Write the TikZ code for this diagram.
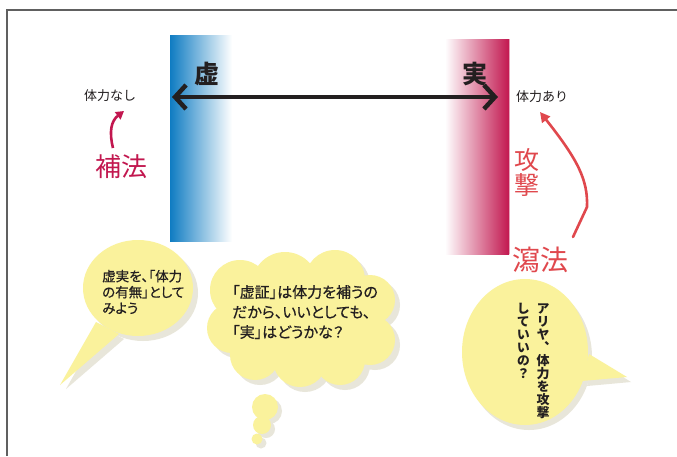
\documentclass[tikz,border=0pt]{standalone}
\usepackage{fontspec}
\newfontfamily\jp{Noto Sans CJK JP}
\newfontfamily\jpp[RawFeature={+palt}, FakeBold=0.6]{Noto Sans CJK JP}
\newfontfamily\jpv[RawFeature={vertical}]{Noto Sans CJK JP}
\usetikzlibrary{arrows.meta}
\definecolor{bub}{HTML}{FAF29C}
\definecolor{shd}{HTML}{E8E6DA}
\definecolor{crim}{HTML}{C2174F}
\definecolor{coral}{HTML}{E0484D}
\definecolor{blu}{HTML}{0F7CC2}
\definecolor{framec}{HTML}{606060}
\definecolor{ink}{HTML}{231F20}
\begin{document}
\begin{tikzpicture}[x=1pt,y=-1pt,
  bigchar/.style={font=\jp\bfseries\fontsize{25}{25}\selectfont, text=ink, inner sep=0pt},
  small/.style={font=\jp\fontsize{13}{13}\selectfont, text=ink, inner sep=0pt},
  redlabel/.style={font=\jp\fontsize{26}{26}\selectfont, inner sep=0pt},
  bubtext/.style={text=ink, inner sep=0pt, align=left},
  bubfill/.style={fill=bub},
  shadow/.style={fill=shd}]
\useasboundingbox (0,0) rectangle (677,456);
\fill[white] (0,0) rectangle (677,456);
% frame
\draw[framec, line width=1.3pt] (7,456) -- (7,10) -- (677,10);
% bars
\shade[left color=blu, right color=white] (170,35) rectangle (232,241);
\shade[left color=white, right color=crim] (445,39) rectangle (509,254);
\draw[crim!40, line width=0.8pt] (509.5,39) -- (509.5,254);
% main labels
\node[bigchar] (kyo) at (207,74) {虚};
\node[bigchar] (jitsu) at (475,74) {実};
\coordinate (la) at (172,97);
\coordinate (ra) at (498,97);
\draw[line width=4.5pt, ink, {Straight Barb[length=11pt,width=24pt]}-{Straight Barb[length=11pt,width=24pt]}] (la) -- (ra);
\node[small] (nashi) at (110,96) {体力なし};
\node[small] (ari) at (542,97) {体力あり};
\node[redlabel, text=crim] (hoho) at (121,167) {補法};
\node[redlabel, text=coral, align=center, font=\jp\fontsize{25}{25}\selectfont] (kogeki) at (527,172) {攻\\撃};
\node[redlabel, text=coral, font=\jp\fontsize{28}{28}\selectfont] (shaho) at (540,260) {瀉法};
% curved arrows
\coordinate (h0) at (113,148);
\coordinate (h1) at (124,111);
\draw[crim, line width=2.6pt, -{Triangle[length=8pt,width=9pt]}] (h0) .. controls (109,132) and (111,121) .. (h1);
\coordinate (s0) at (573,237);
\coordinate (s1) at (587,207);
\coordinate (s2) at (540,112);
\draw[coral, line width=2.6pt, line cap=round, -{Triangle[length=10pt,width=10pt]}] (s0) -- (s1) .. controls (588,180) and (578,160) .. (s2);
% bubble 1 (speech)
\fill[shadow] (143,293) ellipse[x radius=55, y radius=48];
\fill[shadow] (101,327) -- (66,389) -- (124,339) -- cycle;
\fill[bubfill] (138,288) ellipse[x radius=55, y radius=48];
\fill[bubfill] (96,322) -- (60,385) -- (119,334) -- cycle;
\node[bubtext, anchor=west, font=\jpp\fontsize{13.5}{16}\selectfont] (t1) at (102,292) {虚実を、「体力\\の有無」として\\みよう};
% bubble 2 (cloud)
\foreach \cx/\cy/\r in {240/290/30, 285/285/33, 335/280/30, 370/300/25, 370/340/25, 340/360/25, 300/360/27, 255/355/25, 232/328/25}{
  \fill[shadow] (\cx+5,\cy+5) circle[radius=\r];
}
\fill[shadow] (305,325) ellipse[x radius=75, y radius=40];
\foreach \cx/\cy/\r in {240/290/30, 285/285/33, 335/280/30, 370/300/25, 370/340/25, 340/360/25, 300/360/27, 255/355/25, 232/328/25}{
  \fill[bubfill] (\cx,\cy) circle[radius=\r];
}
\fill[bubfill] (300,320) ellipse[x radius=75, y radius=40];
\fill[shadow] (269,411) circle[radius=13];
\fill[shadow] (266,429) circle[radius=9];
\fill[shadow] (261,443) circle[radius=5.5];
\fill[bubfill] (265,407) circle[radius=13];
\fill[bubfill] (262,425) circle[radius=9];
\fill[bubfill] (257,439) circle[radius=5.5];
\node[bubtext, anchor=west, font=\jpp\fontsize{15}{20}\selectfont] (t2) at (232,312) {「虚証」は体力を補うの\\だから、いいとしても、\\「実」はどうかな？};
% bubble 3 (speech, vertical text)
\fill[shadow] (529,357) ellipse[x radius=63, y radius=73];
\fill[shadow] (594,359) -- (631,382) -- (587,386) -- cycle;
\fill[bubfill] (525,352) ellipse[x radius=63, y radius=73];
\fill[bubfill] (589,354) -- (627,377) -- (582,381) -- cycle;
\node[rotate=-90, anchor=west, inner sep=0pt, text=ink, font=\jpv\bfseries\fontsize{13}{13}\selectfont] (v1) at (548,302) {アリヤ、体力を攻撃};
\node[rotate=-90, anchor=west, inner sep=0pt, text=ink, font=\jpv\bfseries\fontsize{13}{13}\selectfont] (v2) at (528,302) {していいの？};
\end{tikzpicture}
\end{document}
